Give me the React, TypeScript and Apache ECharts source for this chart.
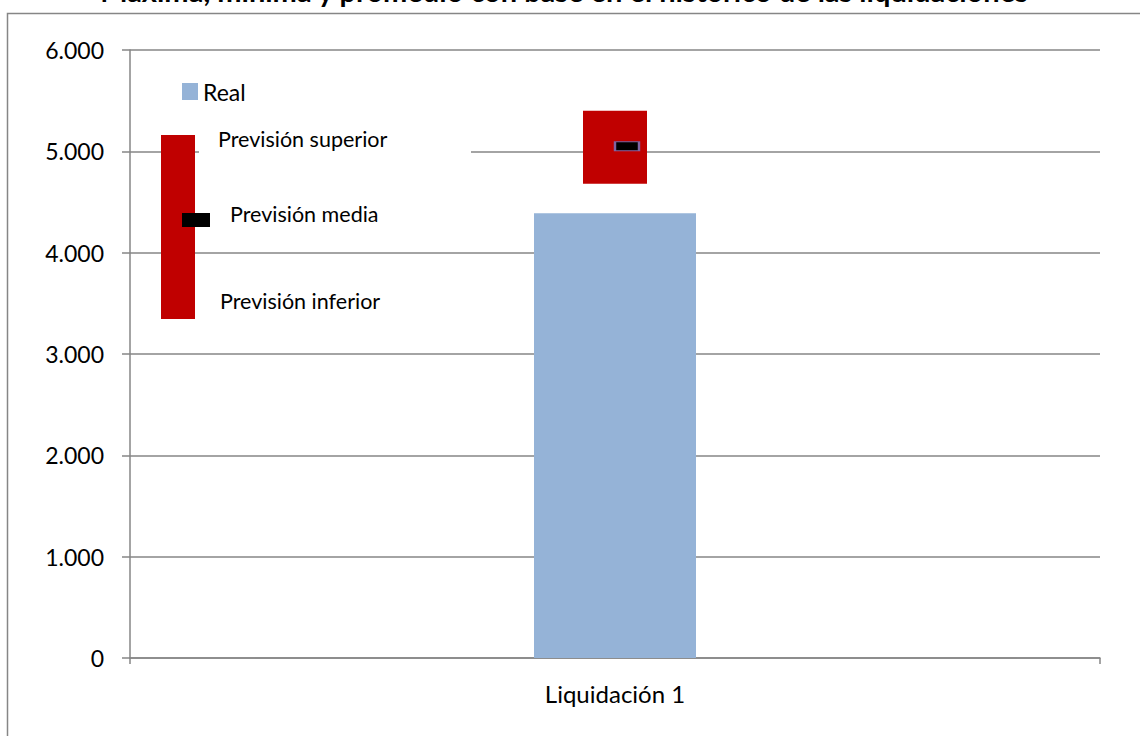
import React, { useEffect, useRef } from "react";
import * as echarts from "echarts";

const title = "Máxima, mínima y promedio con base en el histórico de las liquidaciones";
const categories = ["Liquidación 1"];
const realValues = [4390];
const lowerValues = [4680];
const upperValues = [5400];
const meanValues = [5050];
const yTicks = { min: 0, max: 6000, interval: 1000 };
const legendLabels = ["Previsión superior", "Previsión media", "Previsión inferior"];

const FONT = "Lato, 'Open Sans', sans-serif";
const GRID = "#868686";

export default function App() {
  const ref = useRef<HTMLDivElement>(null);
  useEffect(() => {
    if (!ref.current) return;
    const chart = echarts.init(ref.current, undefined, { renderer: "svg" });
    const fmt = (v: number) => {
      if (v === 0) return "0";
      const s = Math.round(v).toString();
      return s.replace(/\B(?=(\d{3})+(?!\d))/g, ".");
    };
    chart.setOption({
      animation: false,
      backgroundColor: "#ffffff",
      textStyle: { fontFamily: FONT },
      grid: { left: 130, right: 40, top: 50, bottom: 78, containLabel: false },
      legend: {
        data: ["Real"],
        left: 177,
        top: 75,
        icon: "rect",
        itemWidth: 16,
        itemHeight: 17,
        textStyle: { fontFamily: FONT, fontSize: 23, color: "#000" },
        selectedMode: false,
      },
      xAxis: [
        {
          type: "category",
          data: categories,
          boundaryGap: true,
          axisLine: { lineStyle: { color: GRID, width: 1.5 } },
          axisTick: { show: true, length: 6, alignWithLabel: false, lineStyle: { color: GRID, width: 1.5 } },
          axisLabel: { fontFamily: FONT, fontSize: 24, color: "#000", margin: 23 },
        },
        {
          type: "category",
          data: categories,
          show: false,
          position: "bottom",
        },
      ],
      yAxis: {
        type: "value",
        min: yTicks.min,
        max: yTicks.max,
        interval: yTicks.interval,
        axisLine: { show: true, lineStyle: { color: GRID, width: 1.5 } },
        axisTick: { show: true, length: 8, lineStyle: { color: GRID, width: 1.5 } },
        axisLabel: { fontFamily: FONT, fontSize: 23, color: "#000", margin: 26, formatter: fmt },
        splitLine: { show: true, lineStyle: { color: GRID, width: 1.5 } },
      },
      series: [
        {
          name: "Real",
          type: "bar",
          xAxisIndex: 0,
          data: realValues,
          barWidth: 162,
          itemStyle: { color: "#95b3d7" },
          z: 2,
        },
        {
          name: "base",
          type: "bar",
          xAxisIndex: 1,
          stack: "prev",
          data: lowerValues,
          barWidth: 64,
          itemStyle: { color: "rgba(0,0,0,0)" },
          z: 3,
        },
        {
          name: "Rango",
          type: "bar",
          xAxisIndex: 1,
          stack: "prev",
          data: upperValues.map((u, i) => u - lowerValues[i]),
          barWidth: 64,
          itemStyle: { color: "#c00000" },
          z: 3,
        },
        {
          name: "Media",
          type: "scatter",
          xAxisIndex: 1,
          data: meanValues,
          symbol: "rect",
          symbolSize: [24, 9],
          symbolOffset: [12, 0],
          itemStyle: { color: "#000", borderColor: "#8064a2", borderWidth: 1.5, opacity: 1 },
          z: 5,
        },
      ],
      graphic: [
        {
          type: "rect",
          shape: { x: 7.5, y: 13.5, width: 1300, height: 900 },
          style: { fill: "none", stroke: GRID, lineWidth: 1.5 },
          z: 0,
          silent: true,
        },
        {
          type: "text",
          x: 564,
          y: -10,
          style: {
            text: title,
            fontFamily: FONT,
            fontWeight: "bold",
            fontSize: 29,
            fill: "#000",
            align: "center",
            verticalAlign: "middle",
          },
        },
        {
          type: "rect",
          shape: { x: 199, y: 122, width: 272, height: 36 },
          style: { fill: "#fff" },
          z: 10,
        },
        {
          type: "rect",
          shape: { x: 161, y: 135, width: 34, height: 184 },
          style: { fill: "#c00000" },
          z: 11,
        },
        {
          type: "rect",
          shape: { x: 182, y: 213, width: 28, height: 14 },
          style: { fill: "#000" },
          z: 12,
        },
        {
          type: "text",
          x: 218,
          y: 139,
          z: 12,
          style: { text: legendLabels[0], fontFamily: FONT, fontSize: 21.5, fill: "#000", verticalAlign: "middle" },
        },
        {
          type: "text",
          x: 230,
          y: 214,
          z: 12,
          style: { text: legendLabels[1], fontFamily: FONT, fontSize: 21.5, fill: "#000", verticalAlign: "middle" },
        },
        {
          type: "text",
          x: 220,
          y: 301,
          z: 12,
          style: { text: legendLabels[2], fontFamily: FONT, fontSize: 21.5, fill: "#000", verticalAlign: "middle" },
        },
      ],
    });
    return () => chart.dispose();
  }, []);
  return (
    <div
      ref={ref}
      style={{ position: "fixed", left: 0, top: 0, width: 1140, height: 736, background: "#fff" }}
    />
  );
}
